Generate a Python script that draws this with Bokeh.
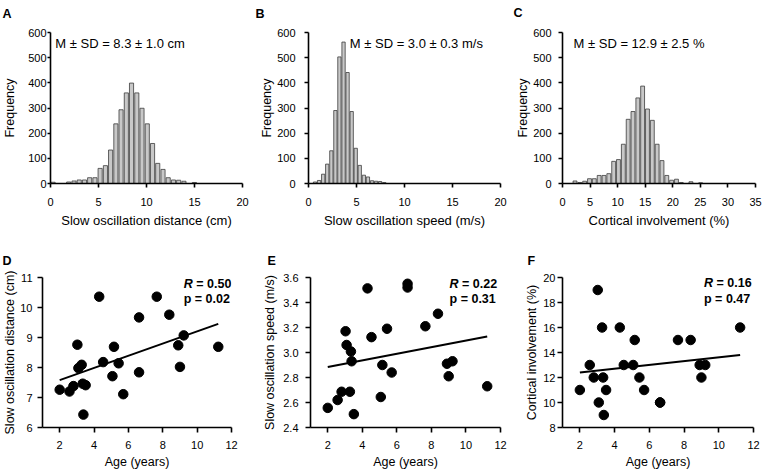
import numpy as np
from bokeh.plotting import figure
from bokeh.models import Label, FixedTicker, Range1d, NumeralTickFormatter
from bokeh.layouts import row, column
from bokeh.core.properties import value
from bokeh.embed import file_html
from bokeh.resources import INLINE

FONT = "Liberation Sans"

# ---------------- data ----------------
# Panel A: slow oscillation distance histogram (cm)
a_centers = [0.27, 1.90, 2.45, 2.99, 3.54, 4.08, 4.63, 5.17, 5.72, 6.26, 6.81, 7.35, 7.90,
             8.44, 8.99, 9.53, 10.08, 10.63, 11.17, 11.72, 12.26, 12.81, 13.35, 13.90, 14.99]
a_counts = [5, 6, 10, 14, 14, 23, 23, 60, 71, 133, 237, 293, 360,
            399, 360, 299, 237, 159, 80, 56, 23, 14, 13, 9, 4]
# Panel B: slow oscillation speed histogram (m/s)
b_centers = [0.68, 1.10, 1.53, 1.95, 2.38, 2.80, 3.22, 3.65, 4.07, 4.50, 4.92, 5.34,
             5.77, 6.19, 6.62, 7.04, 7.46, 7.89]
b_counts = [6, 12, 37, 77, 130, 290, 503, 562, 441, 286, 140, 72, 33, 26, 11, 9, 8, 4]
# Panel C: cortical involvement histogram (%)
c_centers = [2.27, 3.15, 4.02, 4.90, 5.77, 6.65, 7.53, 8.40, 9.28, 10.15, 11.03, 11.91,
             12.78, 13.66, 14.53, 15.41, 16.29, 17.16, 18.04, 18.91, 19.79, 20.67, 21.54,
             23.29, 25.05]
c_counts = [10, 4, 9, 19, 19, 32, 32, 39, 88, 95, 156, 255, 286, 340, 387, 296, 251, 156,
            91, 32, 13, 17, 4, 7, 3]

# Panels D-F: per-subject values against age
age = [2.0, 2.57, 2.8, 3.03, 3.09, 3.28, 3.34, 3.38, 3.51, 4.3, 4.53, 5.07, 5.16, 5.43,
       5.7, 6.62, 6.62, 7.65, 8.38, 8.9, 9.0, 9.22, 11.23]
so_distance = [7.26, 7.2, 7.38, 8.76, 7.98, 8.09, 7.46, 6.43, 7.41, 10.36, 8.18, 7.71, 8.69,
               8.14, 7.11, 9.67, 7.84, 10.36, 9.76, 8.74, 8.02, 9.07, 8.69]
so_speed = [2.557, 2.62, 2.686, 3.17, 3.06, 2.686, 3.008, 2.93, 2.507, 3.513, 3.123, 2.644,
            2.90, 3.19, 2.84, 3.55, 3.52, 3.21, 3.31, 2.91, 2.81, 2.93, 2.73]
cortical = [11, 13, 12, 19, 10, 16, 12, 9, 11, 16, 13, 13, 15, 12, 11, 10, 10, 15, 15, 13,
            12, 13, 16]

hist_xticks_ab = [0, 5, 10, 15, 20]
hist_xticks_c = [0, 5, 10, 15, 20, 25, 30, 35]
hist_yticks = [0, 100, 200, 300, 400, 500, 600]
age_ticks = [2, 4, 6, 8, 10, 12]

letters_top = ["A", "B", "C"]
letters_bottom = ["D", "E", "F"]

TOTAL_W = 762


def style_axes(p, xt, yt, xs, ys, xtout, ytout, xals, yals, xtitle_size):
    p.outline_line_color = None
    p.xgrid.visible = False
    p.ygrid.visible = False
    p.background_fill_color = "white"
    p.border_fill_color = "white"
    for ax in (p.xaxis[0], p.yaxis[0]):
        ax.axis_line_width = 1.6
        ax.axis_line_color = "black"
        ax.major_tick_line_width = 1.6
        ax.major_tick_line_color = "black"
        ax.minor_tick_line_color = None
        ax.major_tick_in = 0
        ax.major_label_text_font = FONT
        ax.major_label_text_font_size = "11px"
        ax.major_label_text_color = "black"
        ax.axis_label_text_font = FONT
        ax.axis_label_text_font_size = "12.5px"
        ax.axis_label_text_font_style = "normal"
        ax.axis_label_text_color = "black"
    p.xaxis[0].axis_label_text_font_size = xtitle_size
    p.xaxis[0].ticker = FixedTicker(ticks=xt)
    p.yaxis[0].ticker = FixedTicker(ticks=yt)
    p.xaxis[0].major_label_standoff = xs
    p.yaxis[0].major_label_standoff = ys
    p.xaxis[0].major_tick_out = xtout
    p.yaxis[0].major_tick_out = ytout
    p.xaxis[0].axis_label_standoff = xals
    p.yaxis[0].axis_label_standoff = yals


def letter_strip(letters, xs, ys, h):
    s = figure(width=TOTAL_W, height=h, output_backend="svg", toolbar_location=None,
               x_range=Range1d(0, TOTAL_W), y_range=Range1d(0, h),
               x_axis_location=None, y_axis_location=None, min_border=0)
    s.outline_line_color = None
    s.xgrid.visible = False
    s.ygrid.visible = False
    s.text(x=xs, y=ys, text=letters, text_font=value(FONT), text_font_size="12.5px",
           text_font_style="bold", text_baseline="alphabetic", text_align="left",
           text_color="black")
    return s


def hist_panel(w, h, bl, br, bt, bb, xmax, xt, centers, counts, bw, xlabel, note, nx,
               ys, ytout, yals):
    p = figure(width=w, height=h, output_backend="svg", toolbar_location=None,
               x_range=Range1d(0, xmax), y_range=Range1d(0, 600),
               min_border_left=bl, min_border_right=br, min_border_top=bt,
               min_border_bottom=bb, x_axis_label=xlabel, y_axis_label="Frequency")
    p.vbar(x=centers, top=counts, bottom=0, width=bw, fill_color="#c8c8c8",
           line_color="#3c3c3c", line_width=0.8)
    style_axes(p, xt, hist_yticks, 10, ys, 4, ytout, 4, yals, "13px")
    p.add_layout(Label(x=nx, y=558, text=note, text_font=FONT, text_font_size="13px",
                       text_baseline="middle", text_align="left", text_color="black"))
    return p


def scatter_panel(w, h, bl, br, bt, bb, ydata, yr, yt, ylabel, rtxt, ptxt, tx, ry, py,
                  ys, yals, fmt=None):
    p = figure(width=w, height=h, output_backend="svg", toolbar_location=None,
               x_range=Range1d(1, 12), y_range=Range1d(*yr),
               min_border_left=bl, min_border_right=br, min_border_top=bt,
               min_border_bottom=bb, x_axis_label="Age (years)", y_axis_label=ylabel)
    p.scatter(age, ydata, size=9.5, fill_color="black", line_color="black")
    slope, icpt = np.polyfit(age, ydata, 1)
    xs = [min(age), max(age)]
    p.line(xs, [slope * v + icpt for v in xs], line_color="black", line_width=2)
    style_axes(p, age_ticks, yt, 8, ys, 5, 5, 3, yals, "12.5px")
    if fmt:
        p.yaxis[0].formatter = NumeralTickFormatter(format=fmt)
    p.add_layout(Label(x=tx, y=ry, text="R", text_font=FONT, text_font_size="12.5px",
                       text_font_style="bold italic", text_baseline="middle",
                       text_align="left", text_color="black"))
    p.add_layout(Label(x=tx, y=ry, x_offset=12.5, text=rtxt, text_font=FONT,
                       text_font_size="12.5px", text_font_style="bold",
                       text_baseline="middle", text_align="left", text_color="black"))
    p.add_layout(Label(x=tx, y=py, text=ptxt, text_font=FONT, text_font_size="12.5px",
                       text_font_style="bold", text_baseline="middle",
                       text_align="left", text_color="black"))
    return p


S1 = 20   # strip with panel letters A-C
H1 = 225  # histogram row
S2 = 25   # strip with panel letters D-F
H2 = 201  # scatter row

strip1 = letter_strip(letters_top, [2, 255, 513], [7, 7, 8], S1)
strip2 = letter_strip(letters_bottom, [2, 267, 527], [10, 10, 10], S2)

pa = hist_panel(254, H1, 50, 12, 12, 58, 20, hist_xticks_ab, a_centers, a_counts, 0.43,
                "Slow oscillation distance (cm)", "M \u00b1 SD = 8.3 \u00b1 1.0 cm", 0.5,
                1, 3, 8)
pb = hist_panel(254, H1, 54, 8, 12, 59, 20, hist_xticks_ab, b_centers, b_counts, 0.34,
                "Slow oscillation speed (m/s)", "M \u00b1 SD = 3.0 \u00b1 0.3 m/s", 4.3,
                9, 4, 0)
pc = hist_panel(254, H1, 54, 7, 9, 62, 35, hist_xticks_c, c_centers, c_counts, 0.7,
                "Cortical involvement (%)", "M \u00b1 SD = 12.9 \u00b1 2.5 %", 2.0,
                7, 4, 0)

pd = scatter_panel(254, H2, 40, 23, 7, 41, so_distance, (6, 11), [6, 7, 8, 9, 10, 11],
                   "Slow oscillation distance (cm)", "= 0.50", "p = 0.02", 9.22, 10.78,
                   10.29, 5, 0)
pe = scatter_panel(254, H2, 56, 8, 7, 41, so_speed, (2.4, 3.6),
                   [2.4, 2.6, 2.8, 3.0, 3.2, 3.4, 3.6],
                   "Slow oscillation speed (m/s)", "= 0.22", "p = 0.31", 9.05, 3.547,
                   3.43, 7, 3, fmt="0.0")
pf = scatter_panel(254, H2, 54, 9, 7, 41, cortical, (8, 20), [8, 10, 12, 14, 16, 18, 20],
                   "Cortical involvement (%)", "= 0.16", "p = 0.47", 9.15, 19.53,
                   18.3, 2, 1)

layout = column(strip1, row(pa, pb, pc), strip2, row(pd, pe, pf))

open("out.html", "w").write(file_html(layout, INLINE))
